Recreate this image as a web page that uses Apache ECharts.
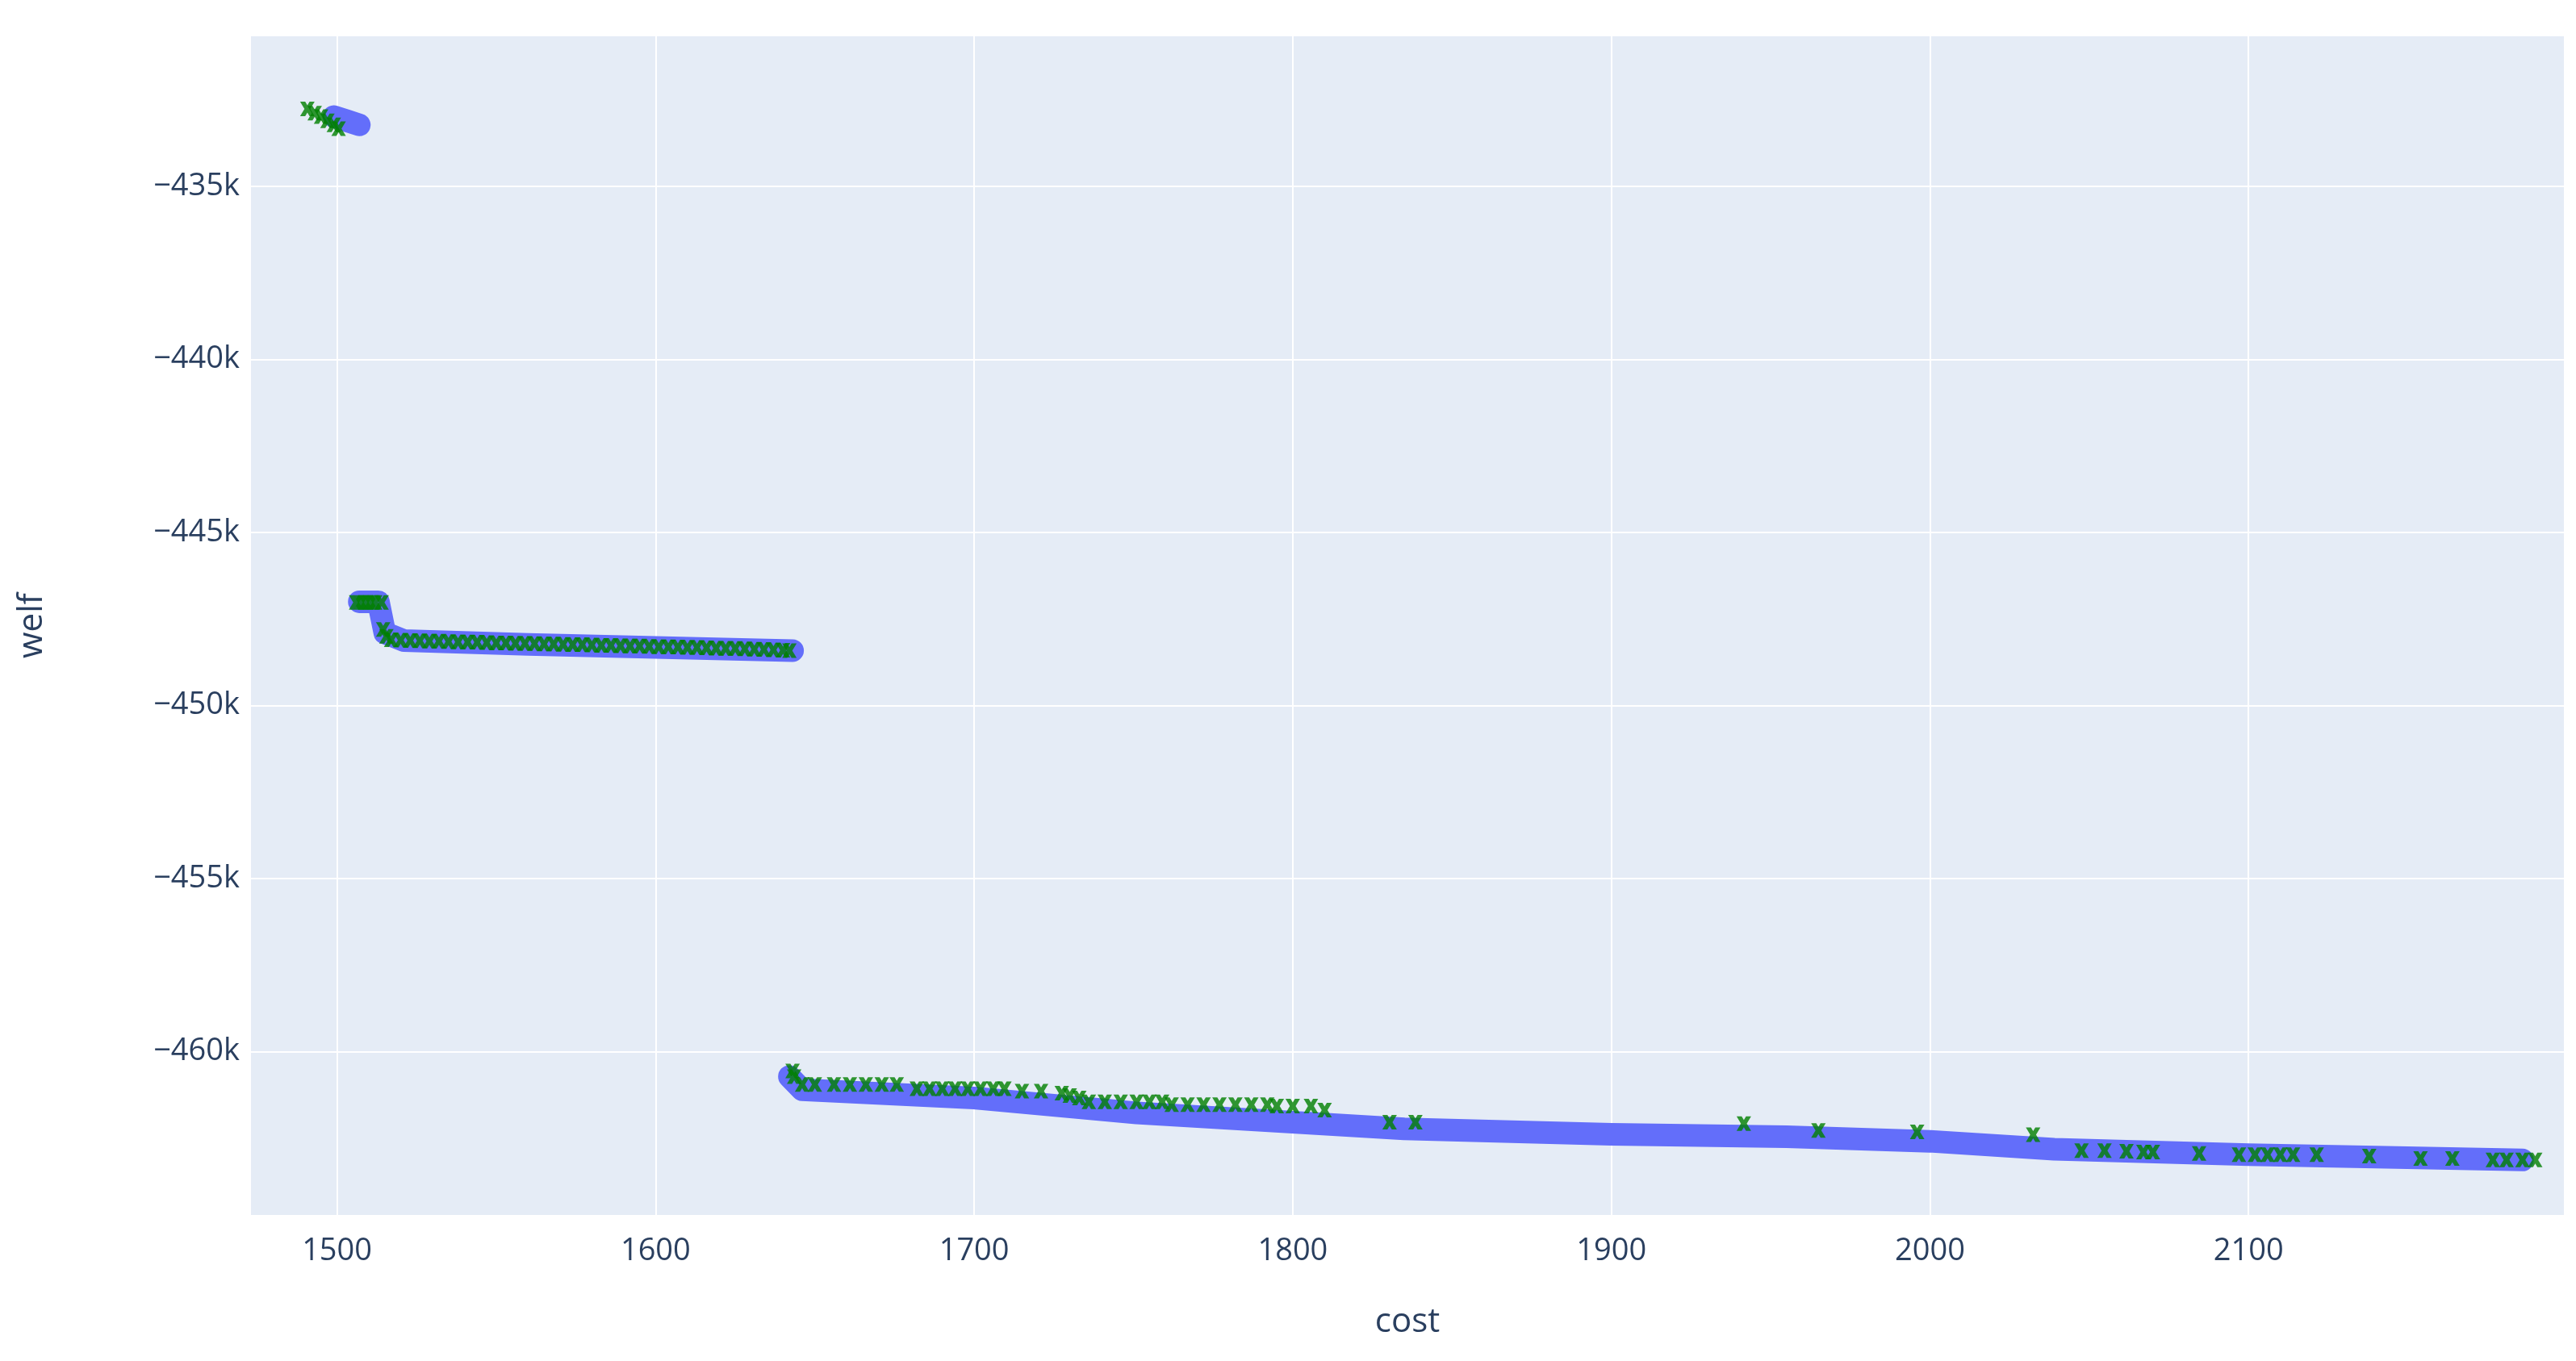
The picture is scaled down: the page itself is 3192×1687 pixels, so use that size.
<!DOCTYPE html>
<html>
<head>
<meta charset="utf-8">
<script src="https://cdn.jsdelivr.net/npm/echarts@6/dist/echarts.min.js"></script>
<style>html,body{margin:0;padding:0;background:#fff}#chart{width:3192px;height:1687px}</style>
</head>
<body>
<div id="chart"></div>
<script>
// blue band (dense frontier), null separates the three pieces
var bandCost = [1499, 1503, 1507, null,
  1507, 1513, 1515, 1521, 1560, 1600, 1643, null,
  1642, 1646, 1700, 1751, 1800, 1835, 1900, 1955, 2000, 2039, 2100, 2140, 2186];
var bandWelf = [-432980, -433100, -433220, null,
  -447000, -447000, -447900, -448120, -448230, -448320, -448410, null,
  -460720, -461100, -461340, -461770, -462040, -462230, -462390, -462460, -462590, -462820, -462980, -463050, -463130];

// green markers
var ptCost = [1490.7, 1493, 1495, 1497, 1499, 1500.5,
  1506, 1507.5, 1509, 1510.5, 1512, 1514, 1514.5, 1515.5, 1517,
  1520, 1523, 1526, 1529, 1532, 1535, 1538, 1541, 1544, 1547, 1550, 1553, 1556, 1559, 1562, 1565, 1568,
  1571, 1574, 1577, 1580, 1583, 1586, 1589, 1592, 1595, 1598, 1601, 1604, 1607, 1610, 1613, 1616, 1619,
  1622, 1625, 1628, 1631, 1634, 1637, 1640, 1642,
  1643, 1643.5, 1646, 1650, 1656, 1661, 1666, 1671, 1675.7, 1682, 1686, 1690, 1694, 1698, 1702, 1706, 1709.5,
  1715, 1721, 1727.5, 1730, 1733, 1736, 1741, 1746, 1751, 1755, 1759, 1762, 1767, 1772, 1777, 1782, 1787, 1792,
  1795, 1800, 1805.7, 1810, 1830.4, 1838.5, 1941.6, 1965, 1996, 2032.4, 2047.6, 2054.8, 2061.7, 2067, 2070,
  2084.5, 2097, 2102, 2106, 2110, 2114, 2121.4, 2137.9, 2154, 2164, 2176.7, 2181, 2186, 2190];
var ptWelf = [-432760, -432880, -432980, -433100, -433220, -433330,
  -447020, -447020, -447020, -447020, -447020, -447020, -447800, -448000, -448100,
  -448110, -448120, -448130, -448140, -448140, -448150, -448160, -448160, -448170, -448180, -448190, -448190, -448200, -448200, -448210, -448220, -448220,
  -448230, -448240, -448240, -448250, -448260, -448260, -448270, -448280, -448280, -448290, -448300, -448300, -448310, -448320, -448320, -448330, -448340,
  -448350, -448350, -448360, -448370, -448380, -448390, -448400, -448410,
  -460560, -460720, -460950, -460950, -460950, -460950, -460950, -460950, -460950, -461070, -461070, -461070, -461070, -461070, -461070, -461070, -461070,
  -461140, -461140, -461200, -461270, -461340, -461450, -461450, -461450, -461450, -461450, -461450, -461530, -461530, -461530, -461530, -461530, -461530, -461530,
  -461570, -461570, -461570, -461690, -462040, -462040, -462080, -462280, -462320, -462400, -462860, -462860, -462880, -462900, -462900,
  -462940, -462980, -462980, -462980, -462980, -462980, -462980, -463020, -463090, -463090, -463130, -463130, -463130, -463130];

var xTicks = [1500, 1600, 1700, 1800, 1900, 2000, 2100];
var yTicks = [-460000, -455000, -450000, -445000, -440000, -435000];

function pairs(a, b) {
  var out = [];
  for (var i = 0; i < a.length; i++) {
    out.push(a[i] === null ? [null, null] : [a[i], b[i]]);
  }
  return out;
}

var chart = echarts.init(document.getElementById('chart'));
var font = '"Open Sans", sans-serif';
chart.setOption({
  backgroundColor: '#fff',
  animation: false,
  grid: {left: 311, right: 15, top: 45, bottom: 181, backgroundColor: '#e5ecf6', show: true, borderWidth: 0},
  xAxis: {
    type: 'value', min: 1473, max: 2199,
    name: 'cost', nameLocation: 'middle', nameGap: 112,
    nameTextStyle: {fontFamily: font, fontSize: 42, color: '#2a3f5f'},
    axisLine: {show: false}, axisTick: {show: false, customValues: xTicks},
    axisLabel: {customValues: xTicks, fontFamily: font, fontSize: 38, color: '#2a3f5f', margin: 26,
      formatter: function (v) { return String(v); }},
    splitLine: {lineStyle: {color: '#fff', width: 2}}
  },
  yAxis: {
    type: 'value', min: -464720, max: -430660,
    name: 'welf', nameLocation: 'middle', nameGap: 250, nameRotate: 90,
    nameTextStyle: {fontFamily: font, fontSize: 42, color: '#2a3f5f'},
    axisLine: {show: false}, axisTick: {show: false, customValues: yTicks},
    axisLabel: {customValues: yTicks, fontFamily: font, fontSize: 38, color: '#2a3f5f', margin: 14,
      formatter: function (v) { return '\u2212' + Math.abs(v) / 1000 + 'k'; }},
    splitLine: {lineStyle: {color: '#fff', width: 2}}
  },
  series: [{
    type: 'line', data: pairs(bandCost, bandWelf), showSymbol: false, connectNulls: false, z: 2,
    lineStyle: {color: '#636efa', width: 28, cap: 'round', join: 'round'}
  }, {
    type: 'scatter', data: pairs(ptCost, ptWelf), z: 5,
    symbol: 'path://M0,0 L3.5,0 L5,2.5 L6.5,0 L10,0 L7,5 L10,10 L6.5,10 L5,7.5 L3.5,10 L0,10 L3,5 Z',
    symbolSize: 18, itemStyle: {color: '#008000'}
  }]
});
</script>
</body>
</html>
